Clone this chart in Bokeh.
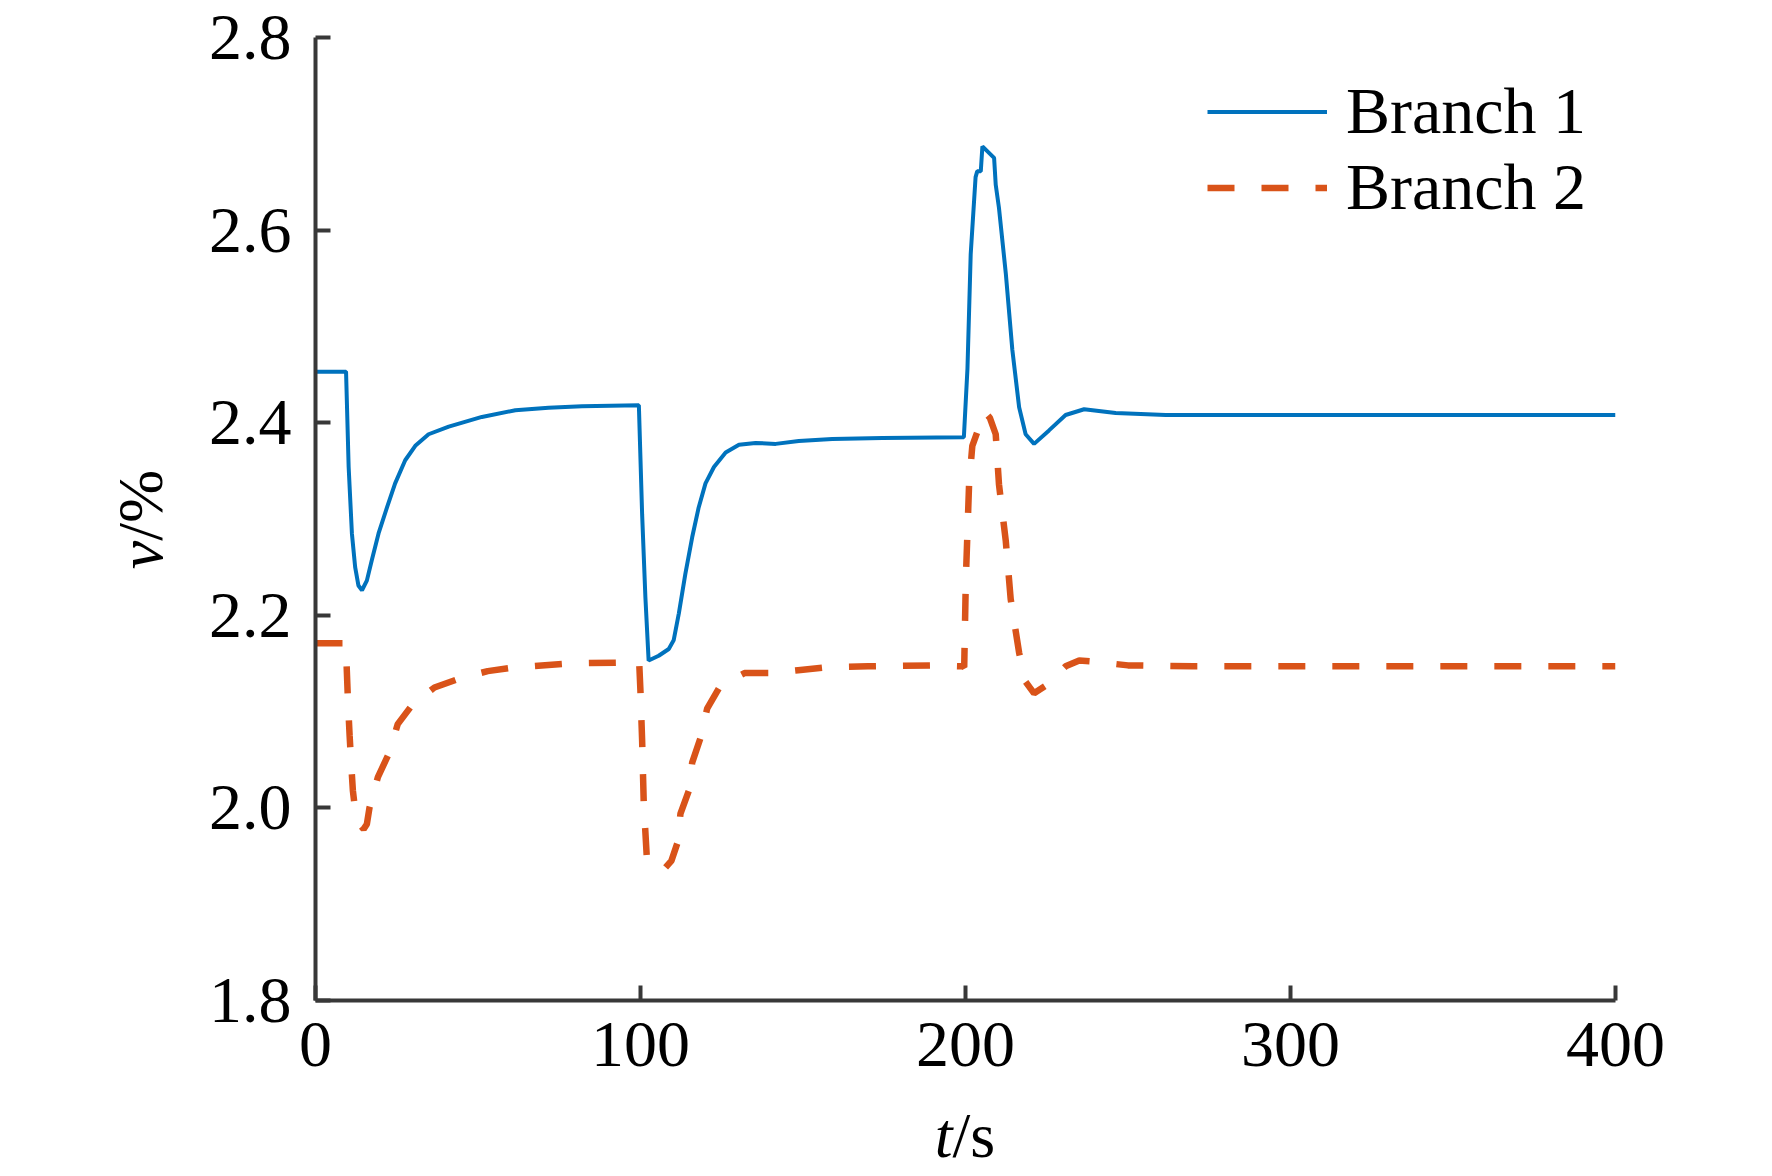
from bokeh.plotting import figure
from bokeh.models import Range1d, FixedTicker, PrintfTickFormatter, Legend, LegendItem, Label
from bokeh.embed import file_html
from bokeh.resources import INLINE

# ---- data ----
t1 = [0, 9.4, 10.2, 11.2, 12.2, 13.2, 14.3, 15.8, 17.3, 19.4, 22.0, 24.5, 27.6, 30.7, 34.8, 41.0,
      51.2, 61.5, 71.7, 82.0, 99.5, 100.5, 101.5, 102.5, 105.6, 108.7, 110.2, 111.8, 113.8, 115.9,
      117.9, 120.0, 122.6, 126.2, 130.3, 135.4, 141.6, 148.7, 159.0, 174.4, 199.5, 200.6, 201.6,
      203.1, 203.6, 204.7, 205.2, 208.8, 209.3, 210.3, 212.4, 214.4, 216.5, 218.5, 221.1, 225.7,
      230.8, 236.5, 246.2, 261.6, 300.0, 400.0]
v1 = [2.453, 2.453, 2.354, 2.285, 2.250, 2.231, 2.226, 2.236, 2.257, 2.285, 2.312, 2.337, 2.361,
      2.376, 2.388, 2.396, 2.406, 2.413, 2.4155, 2.417, 2.418, 2.305, 2.219, 2.153, 2.158, 2.165,
      2.174, 2.202, 2.243, 2.281, 2.312, 2.337, 2.354, 2.369, 2.377, 2.379, 2.378, 2.381, 2.383,
      2.384, 2.385, 2.456, 2.575, 2.655, 2.661, 2.661, 2.687, 2.675, 2.647, 2.623, 2.555, 2.476,
      2.416, 2.388, 2.378, 2.392, 2.408, 2.414, 2.410, 2.408, 2.408, 2.408]

t2 = [0, 9.5, 9.6, 10.0, 10.5, 11.0, 11.5, 12.3, 13.5, 14.8, 15.8, 16.6, 19.2, 22.8, 25.3, 30.0,
      36.6, 44.9, 53.0, 61.5, 78.0, 95.0, 99.6, 100.0, 100.5, 101.0, 102.0, 104.5, 107.7, 109.5,
      111.3, 112.3, 114.9, 115.9, 118.5, 120.5, 124.1, 128.0, 132.0, 140.0, 148.5, 157.0, 170.0,
      190.0, 199.2, 199.6, 200.1, 201.1, 202.1, 203.6, 204.4, 206.0, 207.5, 209.3, 210.3, 212.4,
      213.9, 216.5, 218.5, 221.1, 224.7, 230.8, 235.0, 239.0, 250.0, 270.0, 400.0]
v2 = [2.171, 2.171, 2.146, 2.110, 2.075, 2.045, 2.018, 1.995, 1.983, 1.978, 1.983, 2.000, 2.032,
      2.058, 2.087, 2.108, 2.125, 2.135, 2.142, 2.146, 2.150, 2.151, 2.151, 2.120, 2.070, 2.005,
      1.945, 1.938, 1.938, 1.945, 1.963, 1.994, 2.018, 2.047, 2.073, 2.103, 2.124, 2.133, 2.140,
      2.140, 2.143, 2.146, 2.147, 2.148, 2.147, 2.146, 2.237, 2.336, 2.376, 2.390, 2.395, 2.411,
      2.405, 2.388, 2.336, 2.277, 2.217, 2.161, 2.131, 2.119, 2.127, 2.147, 2.153, 2.152, 2.148,
      2.147, 2.147]

x_ticks = [0, 100, 200, 300, 400]
y_ticks = [1.8, 2.0, 2.2, 2.4, 2.6, 2.8]
series_names = ["Branch 1", "Branch 2"]

FONT = "Liberation Serif"
AX = "#383838"

p = figure(frame_width=1300, frame_height=963,
           min_border_left=315, min_border_right=140, min_border_top=37, min_border_bottom=160,
           x_range=Range1d(0, 400), y_range=Range1d(1.8, 2.8),
           output_backend="svg", toolbar_location=None)
p.outline_line_color = None
p.xgrid.visible = False
p.ygrid.visible = False
p.background_fill_color = "white"
p.border_fill_color = "white"

for ax in (p.xaxis[0], p.yaxis[0]):
    ax.axis_line_color = AX
    ax.axis_line_width = 4
    ax.major_tick_line_color = AX
    ax.major_tick_line_width = 4
    ax.major_tick_in = 15
    ax.major_tick_out = 0
    ax.minor_tick_line_color = None
    ax.major_label_text_font = FONT
    ax.major_label_text_font_size = "66px"
    ax.major_label_text_color = "black"

p.xaxis[0].ticker = FixedTicker(ticks=x_ticks)
p.yaxis[0].ticker = FixedTicker(ticks=y_ticks)
p.yaxis[0].formatter = PrintfTickFormatter(format="%.1f")
p.xaxis[0].major_label_standoff = 22
p.yaxis[0].major_label_standoff = 24

r1 = p.line(t1, v1, line_color="#0072BD", line_width=4)
r2 = p.line(t2, v2, line_color="#D95319", line_width=6.5, line_dash="27 27")

legend = Legend(items=[LegendItem(label=series_names[0], renderers=[r1]),
                       LegendItem(label=series_names[1], renderers=[r2])],
                location=(892, 775), orientation="vertical",
                label_text_font=FONT, label_text_font_size="66px", label_text_color="black",
                glyph_width=120, glyph_height=75, label_height=75, spacing=0,
                padding=0, margin=0, label_standoff=19,
                border_line_color=None, background_fill_alpha=0)
p.add_layout(legend)

# axis titles (italic variable + upright unit), placed in the side panels so they are not clipped
p.add_layout(Label(x=196.0, y=1.660, text="t", text_font=FONT, text_font_style="italic",
                   text_font_size="64px", text_color="black",
                   text_align="right", text_baseline="alphabetic"), "below")
p.add_layout(Label(x=196.0, y=1.660, text="/s", text_font=FONT, text_color="black",
                   text_font_size="64px", text_align="left", text_baseline="alphabetic"), "below")
p.add_layout(Label(x=-54.0, y=2.2774, text="v", text_font=FONT, text_font_style="italic",
                   text_font_size="64px", text_color="black",
                   text_align="right", text_baseline="alphabetic",
                   angle=90, angle_units="deg"), "left")
p.add_layout(Label(x=-54.0, y=2.2774, text="/%", text_font=FONT, text_color="black",
                   text_font_size="64px", text_align="left", text_baseline="alphabetic",
                   angle=90, angle_units="deg"), "left")

open("out.html", "w").write(file_html(p, INLINE))
